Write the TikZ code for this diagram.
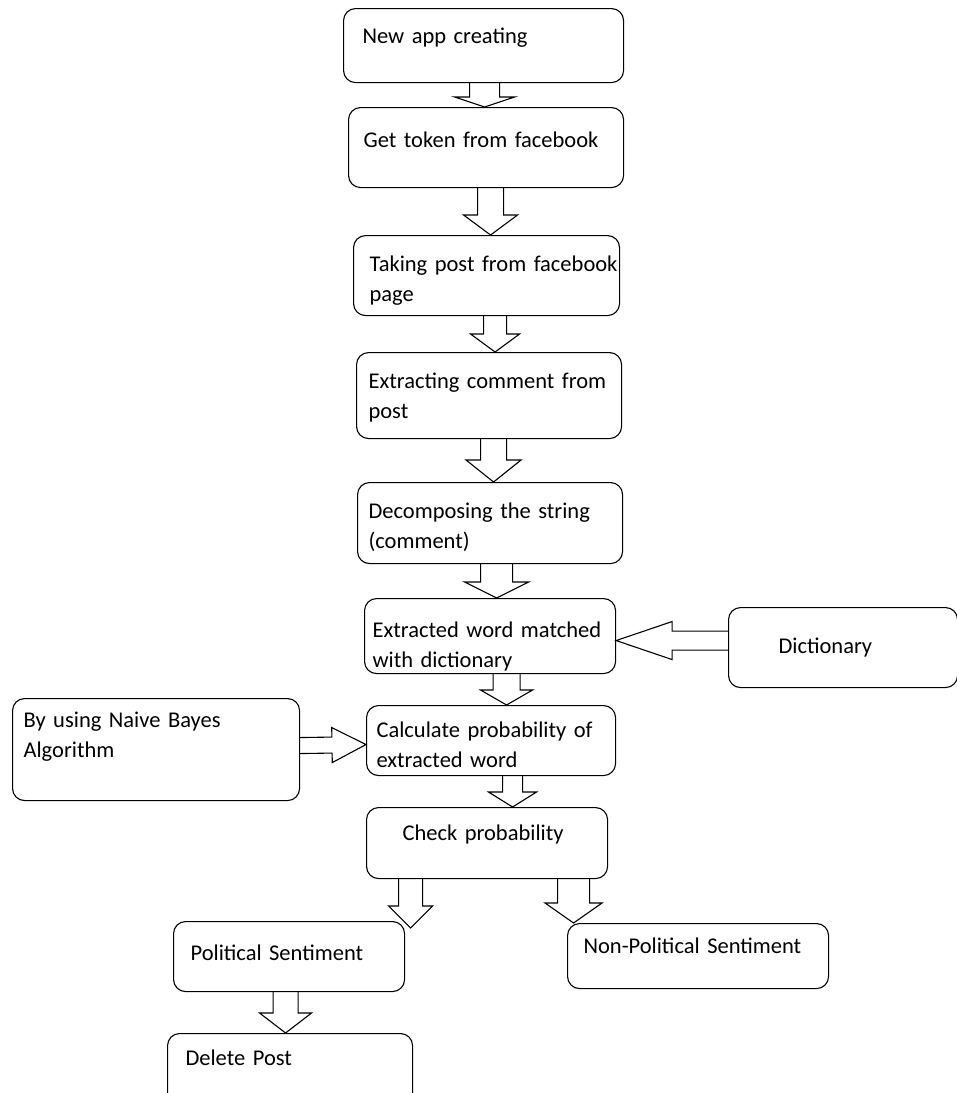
\documentclass[tikz,border=0pt]{standalone}
\usepackage{fontspec}
\setmainfont{Carlito}[WordSpace=0.75]
\usetikzlibrary{calc}

\newcommand\blockarrow[5]{%
  \draw[line width=1.1pt] let \p1=(#1), \p2=(#2),
      \n1={atan2(\y2-\y1,\x2-\x1)}, \n2={veclen(\x2-\x1,\y2-\y1)} in
    [shift={(\p1)}, rotate=\n1]
    (0,#3) -- (\n2-#5,#3) -- (\n2-#5,#4) -- (\n2,0) -- (\n2-#5,-#4) -- (\n2-#5,-#3) -- (0,-#3);
}

\begin{document}
\begin{tikzpicture}[x=1pt,y=-1pt,
  flowbox/.style={draw, line width=1.1pt, rounded corners=12pt, anchor=north west,
    align=left, inner sep=0pt, font=\fontsize{22.5}{30}\selectfont},
  indent/.style={execute at begin node={\leftskip=#1pt}}]
  \useasboundingbox (0,0) rectangle (957,1093);
  \node[flowbox, indent=19, text width=280pt, text height=35pt, text depth=39pt] (create)  at (343,8)    {New app creating};
  \node[flowbox, indent=15, text width=275pt, text height=40pt, text depth=40pt] (token)   at (348,107)  {Get token from facebook};
  \node[flowbox, indent=16, text width=266pt, text height=36pt, text depth=44pt] (post)    at (353,235)  {Taking post from facebook\\page};
  \node[flowbox, indent=12, text width=265pt, text height=36pt, text depth=50pt] (comment) at (356,352)  {Extracting comment from\\post};
  \node[flowbox, indent=11, text width=265pt, text height=36pt, text depth=45pt] (split)   at (357,482)  {Decomposing the string\\(comment)};
  \node[flowbox, indent=8,  text width=251pt, text height=39pt, text depth=36pt] (match)   at (364,598)  {Extracted word matched\\with dictionary};
  \node[flowbox, indent=50, text width=229pt, text height=46pt, text depth=34pt] (dict)    at (728,607)  {Dictionary};
  \node[flowbox, indent=11, text width=287pt, text height=29pt, text depth=73pt] (bayes)   at (12,698)   {By using Naive Bayes\\Algorithm};
  \node[flowbox, indent=10, text width=249pt, text height=32pt, text depth=38pt] (prob)    at (366,705)  {Calculate probability of\\extracted word};
  \node[flowbox, indent=36, text width=241pt, text height=33pt, text depth=38pt] (check)   at (366,807)  {Check probability};
  \node[flowbox, indent=17, text width=231pt, text height=39pt, text depth=31pt] (pol)     at (173,921)  {Political Sentiment};
  \node[flowbox, indent=16, text width=261pt, text height=30pt, text depth=35pt] (nonpol)  at (567,923)  {Non-Political Sentiment};
  \node[flowbox, indent=18, text width=245pt, text height=32pt, text depth=45pt] (delete)  at (167,1033) {Delete Post};
  \blockarrow{[xshift=1pt]create.south}{[xshift=-1.5pt]token.north}{15}{30}{10}
  \blockarrow{[xshift=4.5pt]token.south}{[xshift=4pt]post.north}{13}{27}{20}
  \blockarrow{[xshift=8.5pt]post.south}{[xshift=6pt]comment.north}{11.5}{24.5}{18}
  \blockarrow{[xshift=4.5pt]comment.south}{[xshift=3.5pt]split.north}{13}{27.5}{22}
  \blockarrow{[xshift=6.5pt]split.south}{[xshift=6.5pt]match.north}{16}{32}{16}
  \blockarrow{[xshift=16.5pt]match.south}{[xshift=15.5pt]prob.north}{13.5}{26}{15}
  \blockarrow{[xshift=21.5pt]prob.south}{[xshift=25.5pt]check.north}{10}{24}{15}
  \blockarrow{[yshift=7pt]dict.west}{[yshift=-4.5pt]match.east}{9.5}{19}{56}
  \blockarrow{[yshift=4pt]bayes.east}{[yshift=-4pt]prob.west}{8}{17.5}{34}
  \blockarrow{[xshift=-76.5pt]check.south}{[xshift=121.5pt,yshift=-7pt]pol.north}{12}{22}{22}
  \blockarrow{[xshift=86.5pt]check.south}{[xshift=-124.5pt]nonpol.north}{16}{28.5}{20}
  \blockarrow{[xshift=-3.5pt]pol.south}{[xshift=-4.5pt]delete.north}{12.5}{26}{20}
\end{tikzpicture}
\end{document}
